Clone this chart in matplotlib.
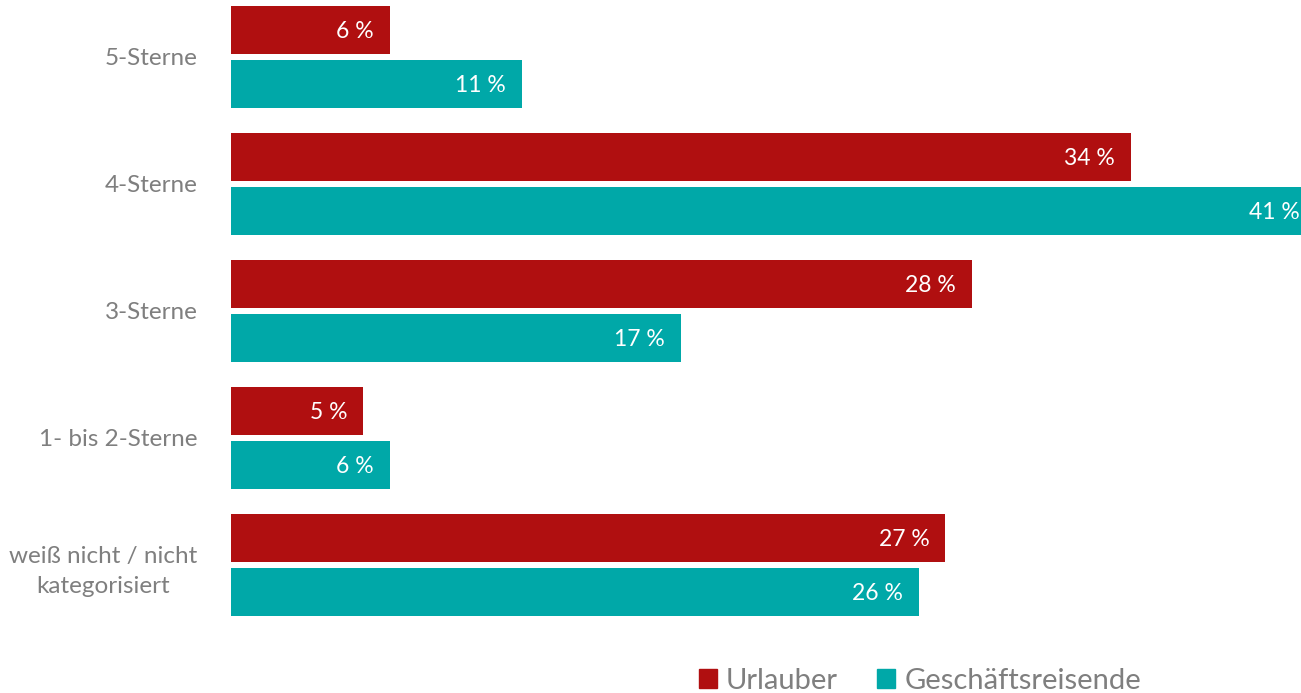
import matplotlib
matplotlib.use("Agg")
import matplotlib.pyplot as plt
from matplotlib.patches import Patch
import numpy as np

plt.rcParams['font.family'] = ['Lato', 'DejaVu Sans']

categories = ['5-Sterne', '4-Sterne', '3-Sterne', '1- bis 2-Sterne',
              'weiß nicht / nicht\nkategorisiert']
urlauber = [6, 34, 28, 5, 27]
geschaeft = [11, 41, 17, 6, 26]
series_names = ['Urlauber', 'Geschäftsreisende']

red = '#B00F10'
teal = '#00A8A8'
gray = '#7F7F7F'

fig = plt.figure(figsize=(13.01, 6.93), dpi=100)
ax = fig.add_axes([231/1301, 1-640/693, 1-231/1301, 640/693])

y = np.arange(len(categories))
h = 48/127
off = 26.75/127
ax.barh(y - off, urlauber, height=h, color=red)
ax.barh(y + off, geschaeft, height=h, color=teal)

ax.set_xlim(0, 1070/26.46)
ax.set_ylim(4.59, -0.447)

pad = 16/26.46
for i in range(len(categories)):
    ax.text(urlauber[i] - pad, y[i] - off + 0.012, f'{urlauber[i]} %', color='white',
            ha='right', va='center', fontsize=16.5)
    ax.text(geschaeft[i] - pad, y[i] + off + 0.012, f'{geschaeft[i]} %', color='white',
            ha='right', va='center', fontsize=16.5)

ax.set_yticks(y)
ax.set_yticklabels(categories, fontsize=17.5, color=gray, multialignment='center',
                   linespacing=1.55)
ax.tick_params(axis='y', length=0, pad=24)
ax.set_xticks([])
for s in ax.spines.values():
    s.set_visible(False)

handles = [Patch(color=red), Patch(color=teal)]
fig.legend(handles, series_names, loc='center', bbox_to_anchor=(920/1301, 1-681/693),
           ncol=2, frameon=False, fontsize=21, labelcolor=gray,
           handlelength=0.62, handleheight=0.62, handletextpad=0.31, columnspacing=1.34)

fig.savefig('out.png', dpi=100)
